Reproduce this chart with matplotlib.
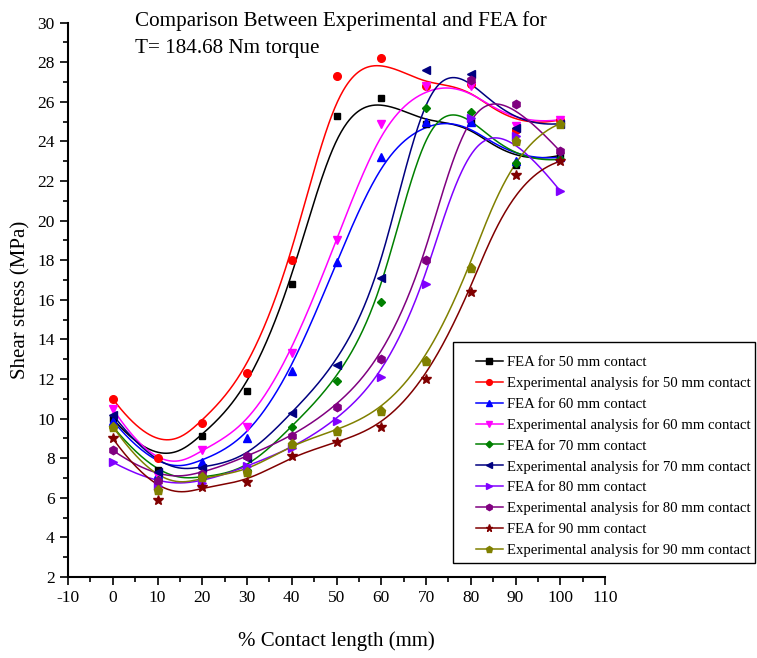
import numpy as np
import matplotlib
matplotlib.use("Agg")
import matplotlib.pyplot as plt
from matplotlib.ticker import MultipleLocator
from matplotlib.patches import Rectangle

plt.rcParams['font.family'] = ['Liberation Serif', 'DejaVu Serif']
plt.rcParams['axes.unicode_minus'] = False

x = [0, 10, 20, 30, 40, 50, 60, 70, 80, 90, 100]
fea50 = [10.0, 7.4, 9.1, 11.4, 16.8, 25.3, 26.2, 24.9, 25.0, 22.8, 23.3]
exp50 = [11.0, 8.0, 9.8, 12.3, 18.0, 27.3, 28.2, 26.8, 26.9, 24.6, 25.1]
fea60 = [9.9, 7.2, 7.8, 9.0, 12.4, 17.9, 23.2, 25.0, 25.0, 23.0, 23.2]
exp60 = [10.5, 7.1, 8.4, 9.6, 13.3, 19.0, 24.9, 26.8, 26.8, 24.8, 25.1]
fea70 = [9.6, 6.9, 7.0, 7.4, 9.6, 11.9, 15.9, 25.7, 25.5, 22.9, 23.1]
exp70 = [10.2, 7.3, 7.5, 8.0, 10.3, 12.7, 17.1, 27.6, 27.4, 24.7, 24.9]
fea80 = [7.8, 6.6, 6.75, 7.6, 8.5, 9.9, 12.1, 16.8, 25.2, 24.3, 21.5]
exp80 = [8.4, 6.85, 7.2, 8.1, 9.1, 10.6, 13.0, 18.0, 27.1, 25.9, 23.5]
fea90 = [9.0, 5.9, 6.55, 6.8, 8.1, 8.8, 9.6, 12.0, 16.4, 22.3, 23.0]
exp90 = [9.6, 6.4, 7.05, 7.3, 8.7, 9.4, 10.4, 12.9, 17.6, 24.0, 24.9]

labels = ["FEA for 50 mm contact", "Experimental analysis for 50 mm contact",
          "FEA for 60 mm contact", "Experimental analysis for 60 mm contact",
          "FEA for 70 mm contact", "Experimental analysis for 70 mm contact",
          "FEA for 80 mm contact", "Experimental analysis for 80 mm contact",
          "FEA for 90 mm contact", "Experimental analysis for 90 mm contact"]
series = [fea50, exp50, fea60, exp60, fea70, exp70, fea80, exp80, fea90, exp90]
colors = ['#000000', '#FF0000', '#0000FF', '#FF00FF', '#008000',
          '#000080', '#8000FF', '#800080', '#800000', '#808000']
markers = ['s', 'o', '^', 'v', 'D', '<', '>', 'h', '*', 'p']
msizes = [5, 5.5, 6, 6, 4.5, 6, 6, 6, 7, 6.5]


def bspline(xs, ys, k=3, n=500):
    P = np.column_stack([xs, ys]).astype(float)
    m = len(P)
    knots = np.concatenate([[0] * k, np.arange(m - k + 1), [m - k] * k]).astype(float)
    t = np.linspace(0, m - k, n)
    N = np.zeros((n, len(knots) - 1))
    for i in range(len(knots) - 1):
        N[:, i] = (knots[i] <= t) & (t < knots[i + 1])
    last = np.where(knots[:-1] < knots[1:])[0][-1]
    N[t >= knots[-1], last] = 1.0
    for d in range(1, k + 1):
        newN = np.zeros((n, len(knots) - 1 - d))
        for i in range(len(knots) - 1 - d):
            a = np.zeros(n)
            den1 = knots[i + d] - knots[i]
            if den1 > 0:
                a += (t - knots[i]) / den1 * N[:, i]
            den2 = knots[i + d + 1] - knots[i + 1]
            if den2 > 0:
                a += (knots[i + d + 1] - t) / den2 * N[:, i + 1]
            newN[:, i] = a
        N = newN
    C = N @ P
    return C[:, 0], C[:, 1]


fig = plt.figure(figsize=(7.57, 6.58), dpi=100)
ax = fig.add_axes([68 / 757, 1 - 577 / 658, (605 - 68) / 757, (577 - 22.7) / 658])

handles = []
for ys, c, mk, ms, lab in zip(series, colors, markers, msizes, labels):
    cx, cy = bspline(x, ys)
    ax.plot(cx, cy, color=c, lw=1.1, zorder=2)
    ax.plot(x, ys, linestyle='none', marker=mk, color=c, ms=ms, zorder=3)
    h, = ax.plot([], [], color=c, lw=1.1, marker=mk, ms=ms * 0.75, label=lab)
    handles.append(h)

ax.set_xlim(-10, 110)
ax.set_ylim(2, 30)
ax.xaxis.set_major_locator(MultipleLocator(10))
ax.xaxis.set_minor_locator(MultipleLocator(5))
ax.yaxis.set_major_locator(MultipleLocator(2))
ax.yaxis.set_minor_locator(MultipleLocator(1))
ax.spines['top'].set_visible(False)
ax.spines['right'].set_visible(False)
for s in ['left', 'bottom']:
    ax.spines[s].set_linewidth(1.5)
ax.tick_params(which='major', direction='out', length=6, width=1.2, labelsize=12.5)
ax.tick_params(which='minor', direction='out', length=3.5, width=1.2)

ax.set_xlabel('% Contact length (mm)', fontsize=15, labelpad=18)
ax.set_ylabel('Shear stress (MPa)', fontsize=15, labelpad=5)

fig.text(135 / 757, 1 - 11 / 658, 'Comparison Between Experimental and FEA for\nT= 184.68 Nm torque',
         fontsize=15.2, va='top', ha='left', linespacing=1.55)

# legend frame drawn as a rectangle in figure pixels
fig.patches.append(Rectangle((453 / 757, 1 - 563 / 658), (755 - 453) / 757, (563 - 342) / 658,
                             transform=fig.transFigure, fill=True, facecolor='white',
                             edgecolor='black', lw=1.0, zorder=5))
leg = fig.legend(handles=handles, loc='upper left',
                 bbox_to_anchor=(476 / 757, 1 - 356 / 658), bbox_transform=fig.transFigure,
                 fontsize=10.65, frameon=False,
                 borderaxespad=0, borderpad=0, handlelength=1.8, handletextpad=0.3,
                 labelspacing=0.49)
leg.set_zorder(6)

fig.savefig('out.png', dpi=100)
